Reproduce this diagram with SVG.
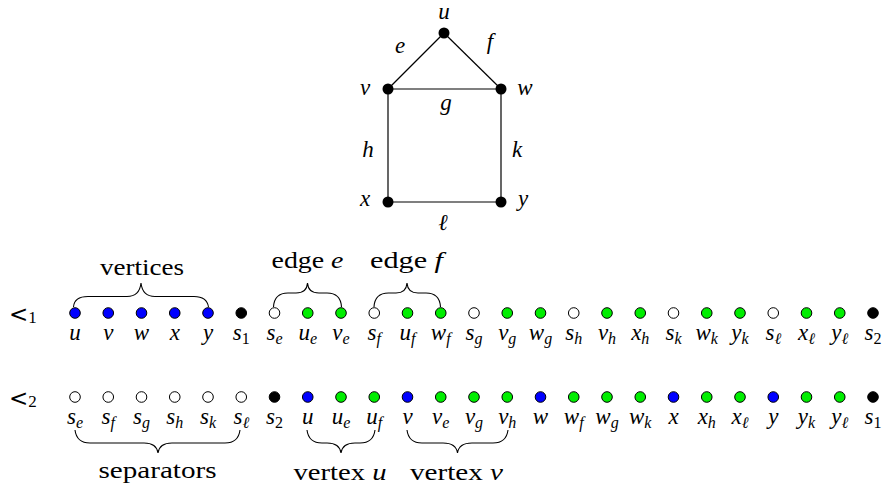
<svg xmlns="http://www.w3.org/2000/svg" width="886" height="489" viewBox="0 0 886 489">
<style>
.bg{fill:#fff}
.edge{stroke:#000;stroke-width:1.2;fill:none}
.brace{stroke:#000;stroke-width:1.1;fill:none}
.gn{fill:#000}
.d{stroke:#000;stroke-width:1}
.b{fill:#0000ff}.g{fill:#00ee00}.w{fill:#fff}.k{fill:#000}
.m{font-family:'Liberation Serif',serif;font-style:italic;font-size:23px;text-anchor:middle;fill:#000}
.r{font-family:'Liberation Serif',serif;font-size:24px;text-anchor:middle;fill:#000}
.s{font-size:16px}
.n{font-style:normal}
.lt{font-family:'DejaVu Sans',sans-serif;font-size:23px;fill:#000}
.ls{font-family:'Liberation Serif',serif;font-size:17px}
</style>
<rect class="bg" width="886" height="489"/>
<g id="connectors">
<line class="edge" x1="444" y1="33" x2="388" y2="89"/>
<line class="edge" x1="444" y1="33" x2="501" y2="89"/>
<line class="edge" x1="388" y1="89" x2="501" y2="89"/>
<line class="edge" x1="388" y1="89" x2="388" y2="202"/>
<line class="edge" x1="501" y1="89" x2="501" y2="202"/>
<line class="edge" x1="388" y1="202" x2="501" y2="202"/>
</g>
<g id="edge-labels">
<text class="m" x="400" y="53">e</text>
<text class="m" x="490" y="49">f</text>
<text class="m" x="446" y="110">g</text>
<text class="m" x="368" y="157">h</text>
<text class="m" x="517" y="157">k</text>
<text class="m" x="443" y="230">ℓ</text>
</g>
<g id="node-u"><circle class="gn" cx="444" cy="33" r="5.5"/><text class="m" x="444" y="19">u</text></g>
<g id="node-v"><circle class="gn" cx="388" cy="89" r="5.5"/><text class="m" x="365" y="95">v</text></g>
<g id="node-w"><circle class="gn" cx="501" cy="89" r="5.5"/><text class="m" x="525" y="95">w</text></g>
<g id="node-x"><circle class="gn" cx="388" cy="202" r="5.5"/><text class="m" x="365" y="206">x</text></g>
<g id="node-y"><circle class="gn" cx="501" cy="202" r="5.5"/><text class="m" x="523" y="206">y</text></g>

<g id="order1">
<text class="lt" x="9" y="322">&lt;<tspan class="ls" dy="1">1</tspan></text>
<g id="o1-u"><circle class="d b" cx="75" cy="313" r="5.3"/><text class="m" x="75" y="339.5">u</text></g>
<g id="o1-v"><circle class="d b" cx="108.25" cy="313" r="5.3"/><text class="m" x="108.25" y="339.5">v</text></g>
<g id="o1-w"><circle class="d b" cx="141.5" cy="313" r="5.3"/><text class="m" x="141.5" y="339.5">w</text></g>
<g id="o1-x"><circle class="d b" cx="174.75" cy="313" r="5.3"/><text class="m" x="174.75" y="339.5">x</text></g>
<g id="o1-y"><circle class="d b" cx="208" cy="313" r="5.3"/><text class="m" x="208" y="339.5">y</text></g>
<g id="o1-s1"><circle class="d k" cx="241.25" cy="313" r="5.3"/><text class="m" x="241.25" y="339.5">s<tspan class="s n" dy="4">1</tspan></text></g>
<g id="o1-se"><circle class="d w" cx="274.5" cy="313" r="5.3"/><text class="m" x="274.5" y="339.5">s<tspan class="s" dy="4">e</tspan></text></g>
<g id="o1-ue"><circle class="d g" cx="307.75" cy="313" r="5.3"/><text class="m" x="307.75" y="339.5">u<tspan class="s" dy="4">e</tspan></text></g>
<g id="o1-ve"><circle class="d g" cx="341" cy="313" r="5.3"/><text class="m" x="341" y="339.5">v<tspan class="s" dy="4">e</tspan></text></g>
<g id="o1-sf"><circle class="d w" cx="374.25" cy="313" r="5.3"/><text class="m" x="374.25" y="339.5">s<tspan class="s" dy="4">f</tspan></text></g>
<g id="o1-uf"><circle class="d g" cx="407.5" cy="313" r="5.3"/><text class="m" x="407.5" y="339.5">u<tspan class="s" dy="4">f</tspan></text></g>
<g id="o1-wf"><circle class="d g" cx="440.75" cy="313" r="5.3"/><text class="m" x="440.75" y="339.5">w<tspan class="s" dy="4">f</tspan></text></g>
<g id="o1-sg"><circle class="d w" cx="474" cy="313" r="5.3"/><text class="m" x="474" y="339.5">s<tspan class="s" dy="4">g</tspan></text></g>
<g id="o1-vg"><circle class="d g" cx="507.25" cy="313" r="5.3"/><text class="m" x="507.25" y="339.5">v<tspan class="s" dy="4">g</tspan></text></g>
<g id="o1-wg"><circle class="d g" cx="540.5" cy="313" r="5.3"/><text class="m" x="540.5" y="339.5">w<tspan class="s" dy="4">g</tspan></text></g>
<g id="o1-sh"><circle class="d w" cx="573.75" cy="313" r="5.3"/><text class="m" x="573.75" y="339.5">s<tspan class="s" dy="4">h</tspan></text></g>
<g id="o1-vh"><circle class="d g" cx="607" cy="313" r="5.3"/><text class="m" x="607" y="339.5">v<tspan class="s" dy="4">h</tspan></text></g>
<g id="o1-xh"><circle class="d g" cx="640.25" cy="313" r="5.3"/><text class="m" x="640.25" y="339.5">x<tspan class="s" dy="4">h</tspan></text></g>
<g id="o1-sk"><circle class="d w" cx="673.5" cy="313" r="5.3"/><text class="m" x="673.5" y="339.5">s<tspan class="s" dy="4">k</tspan></text></g>
<g id="o1-wk"><circle class="d g" cx="706.75" cy="313" r="5.3"/><text class="m" x="706.75" y="339.5">w<tspan class="s" dy="4">k</tspan></text></g>
<g id="o1-yk"><circle class="d g" cx="740" cy="313" r="5.3"/><text class="m" x="740" y="339.5">y<tspan class="s" dy="4">k</tspan></text></g>
<g id="o1-sl"><circle class="d w" cx="773.25" cy="313" r="5.3"/><text class="m" x="773.25" y="339.5">s<tspan class="s" dy="4">ℓ</tspan></text></g>
<g id="o1-xl"><circle class="d g" cx="806.5" cy="313" r="5.3"/><text class="m" x="806.5" y="339.5">x<tspan class="s" dy="4">ℓ</tspan></text></g>
<g id="o1-yl"><circle class="d g" cx="839.75" cy="313" r="5.3"/><text class="m" x="839.75" y="339.5">y<tspan class="s" dy="4">ℓ</tspan></text></g>
<g id="o1-s2"><circle class="d k" cx="873" cy="313" r="5.3"/><text class="m" x="873" y="339.5">s<tspan class="s n" dy="4">2</tspan></text></g>
</g>

<g id="order2">
<text class="lt" x="9" y="406">&lt;<tspan class="ls" dy="1">2</tspan></text>
<g id="o2-se"><circle class="d w" cx="75" cy="397" r="5.3"/><text class="m" x="75" y="424">s<tspan class="s" dy="4">e</tspan></text></g>
<g id="o2-sf"><circle class="d w" cx="108.25" cy="397" r="5.3"/><text class="m" x="108.25" y="424">s<tspan class="s" dy="4">f</tspan></text></g>
<g id="o2-sg"><circle class="d w" cx="141.5" cy="397" r="5.3"/><text class="m" x="141.5" y="424">s<tspan class="s" dy="4">g</tspan></text></g>
<g id="o2-sh"><circle class="d w" cx="174.75" cy="397" r="5.3"/><text class="m" x="174.75" y="424">s<tspan class="s" dy="4">h</tspan></text></g>
<g id="o2-sk"><circle class="d w" cx="208" cy="397" r="5.3"/><text class="m" x="208" y="424">s<tspan class="s" dy="4">k</tspan></text></g>
<g id="o2-sl"><circle class="d w" cx="241.25" cy="397" r="5.3"/><text class="m" x="241.25" y="424">s<tspan class="s" dy="4">ℓ</tspan></text></g>
<g id="o2-s2"><circle class="d k" cx="274.5" cy="397" r="5.3"/><text class="m" x="274.5" y="424">s<tspan class="s n" dy="4">2</tspan></text></g>
<g id="o2-u"><circle class="d b" cx="307.75" cy="397" r="5.3"/><text class="m" x="307.75" y="424">u</text></g>
<g id="o2-ue"><circle class="d g" cx="341" cy="397" r="5.3"/><text class="m" x="341" y="424">u<tspan class="s" dy="4">e</tspan></text></g>
<g id="o2-uf"><circle class="d g" cx="374.25" cy="397" r="5.3"/><text class="m" x="374.25" y="424">u<tspan class="s" dy="4">f</tspan></text></g>
<g id="o2-v"><circle class="d b" cx="407.5" cy="397" r="5.3"/><text class="m" x="407.5" y="424">v</text></g>
<g id="o2-ve"><circle class="d g" cx="440.75" cy="397" r="5.3"/><text class="m" x="440.75" y="424">v<tspan class="s" dy="4">e</tspan></text></g>
<g id="o2-vg"><circle class="d g" cx="474" cy="397" r="5.3"/><text class="m" x="474" y="424">v<tspan class="s" dy="4">g</tspan></text></g>
<g id="o2-vh"><circle class="d g" cx="507.25" cy="397" r="5.3"/><text class="m" x="507.25" y="424">v<tspan class="s" dy="4">h</tspan></text></g>
<g id="o2-w"><circle class="d b" cx="540.5" cy="397" r="5.3"/><text class="m" x="540.5" y="424">w</text></g>
<g id="o2-wf"><circle class="d g" cx="573.75" cy="397" r="5.3"/><text class="m" x="573.75" y="424">w<tspan class="s" dy="4">f</tspan></text></g>
<g id="o2-wg"><circle class="d g" cx="607" cy="397" r="5.3"/><text class="m" x="607" y="424">w<tspan class="s" dy="4">g</tspan></text></g>
<g id="o2-wk"><circle class="d g" cx="640.25" cy="397" r="5.3"/><text class="m" x="640.25" y="424">w<tspan class="s" dy="4">k</tspan></text></g>
<g id="o2-x"><circle class="d b" cx="673.5" cy="397" r="5.3"/><text class="m" x="673.5" y="424">x</text></g>
<g id="o2-xh"><circle class="d g" cx="706.75" cy="397" r="5.3"/><text class="m" x="706.75" y="424">x<tspan class="s" dy="4">h</tspan></text></g>
<g id="o2-xl"><circle class="d g" cx="740" cy="397" r="5.3"/><text class="m" x="740" y="424">x<tspan class="s" dy="4">ℓ</tspan></text></g>
<g id="o2-y"><circle class="d b" cx="773.25" cy="397" r="5.3"/><text class="m" x="773.25" y="424">y</text></g>
<g id="o2-yk"><circle class="d g" cx="806.5" cy="397" r="5.3"/><text class="m" x="806.5" y="424">y<tspan class="s" dy="4">k</tspan></text></g>
<g id="o2-yl"><circle class="d g" cx="839.75" cy="397" r="5.3"/><text class="m" x="839.75" y="424">y<tspan class="s" dy="4">ℓ</tspan></text></g>
<g id="o2-s1"><circle class="d k" cx="873" cy="397" r="5.3"/><text class="m" x="873" y="424">s<tspan class="s n" dy="4">1</tspan></text></g>
</g>

<g id="braces">
<path class="brace" d="M73.5,307 C74,300 79,296.5 88,296.5 L127,296.5 C135,296.5 140,292 141,283 C142,292 147,296.5 155,296.5 L194,296.5 C203,296.5 207.5,300 208.5,307"/>
<path class="brace" d="M273.5,307 C274,298 279,293 288,293 L296,293 C303,293 307,290 307.5,283 C308,290 312,293 319,293 L327,293 C336,293 341,298 341.5,307"/>
<path class="brace" d="M374,307 C374.5,298 379.5,293 388.5,293 L396,293 C403,293 406.5,290 407,283 C407.5,290 411,293 418,293 L426,293 C435,293 440,298 440.5,307"/>
<path class="brace" d="M75,430 C76,438 81,443 90,443 L144,443 C152,443 157,446 158,453 C159,446 164,443 172,443 L225,443 C234,443 239,438 240,430"/>
<path class="brace" d="M307,430 C308,438 313,443 322,443 L327,443 C335,443 340,446 341,453 C342,446 347,443 355,443 L360,443 C369,443 374,438 375,430"/>
<path class="brace" d="M407,430 C408,438 413,443 422,443 L443,443 C451,443 456.5,446 457.5,453 C458.5,446 464,443 472,443 L493,443 C502,443 507,438 508,430"/>
</g>
<g id="brace-labels">
<text class="r" x="142" y="275" textLength="84" lengthAdjust="spacingAndGlyphs">vertices</text>
<text class="r" x="307.5" y="268" textLength="72" lengthAdjust="spacingAndGlyphs">edge <tspan font-style="italic">e</tspan></text>
<text class="r" x="406.5" y="268" textLength="73" lengthAdjust="spacingAndGlyphs">edge <tspan font-style="italic">f</tspan></text>
<text class="r" x="157.5" y="478" textLength="118" lengthAdjust="spacingAndGlyphs">separators</text>
<text class="r" x="340" y="480" textLength="93" lengthAdjust="spacingAndGlyphs">vertex <tspan font-style="italic">u</tspan></text>
<text class="r" x="456.5" y="480" textLength="93" lengthAdjust="spacingAndGlyphs">vertex <tspan font-style="italic">v</tspan></text>
</g>
</svg>
